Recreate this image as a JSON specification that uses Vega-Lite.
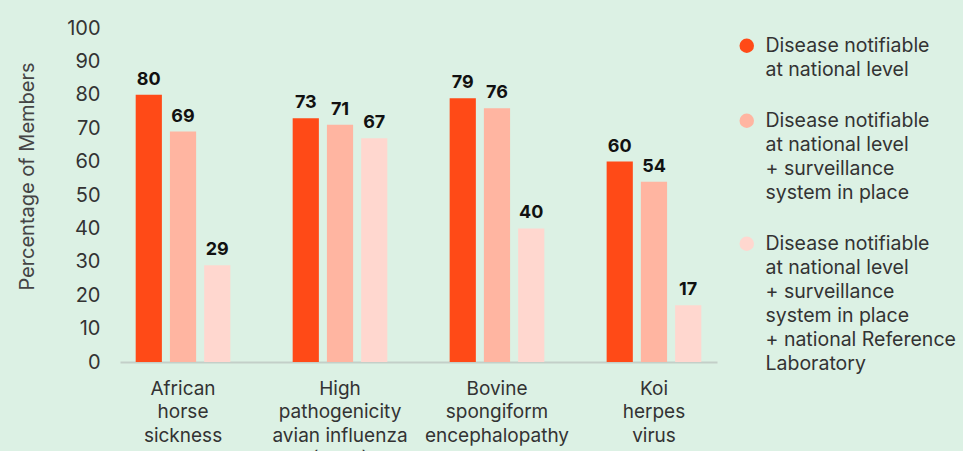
{
  "$schema": "https://vega.github.io/schema/vega-lite/v6.json",
  "width": 597,
  "height": 334,
  "autosize": {"type": "none"},
  "padding": {"left": 120, "top": 28, "right": 246, "bottom": 89},
  "background": "#dcf1e4",
  "config": {
    "view": {"stroke": null},
    "font": "Inter"
  },
  "data": {
    "values": [
      {"disease": "African|horse|sickness", "series": "Disease notifiable|at national level", "value": 80},
      {"disease": "African|horse|sickness", "series": "Disease notifiable|at national level|+ surveillance|system in place", "value": 69},
      {"disease": "African|horse|sickness", "series": "Disease notifiable|at national level|+ surveillance|system in place|+ national Reference|Laboratory", "value": 29},
      {"disease": "High|pathogenicity|avian influenza|(HPAI)", "series": "Disease notifiable|at national level", "value": 73},
      {"disease": "High|pathogenicity|avian influenza|(HPAI)", "series": "Disease notifiable|at national level|+ surveillance|system in place", "value": 71},
      {"disease": "High|pathogenicity|avian influenza|(HPAI)", "series": "Disease notifiable|at national level|+ surveillance|system in place|+ national Reference|Laboratory", "value": 67},
      {"disease": "Bovine|spongiform|encephalopathy", "series": "Disease notifiable|at national level", "value": 79},
      {"disease": "Bovine|spongiform|encephalopathy", "series": "Disease notifiable|at national level|+ surveillance|system in place", "value": 76},
      {"disease": "Bovine|spongiform|encephalopathy", "series": "Disease notifiable|at national level|+ surveillance|system in place|+ national Reference|Laboratory", "value": 40},
      {"disease": "Koi|herpes|virus", "series": "Disease notifiable|at national level", "value": 60},
      {"disease": "Koi|herpes|virus", "series": "Disease notifiable|at national level|+ surveillance|system in place", "value": 54},
      {"disease": "Koi|herpes|virus", "series": "Disease notifiable|at national level|+ surveillance|system in place|+ national Reference|Laboratory", "value": 17}
    ]
  },
  "encoding": {
    "x": {
      "field": "disease",
      "type": "nominal",
      "sort": null,
      "scale": {"paddingInner": 0.397, "paddingOuter": 0.1},
      "axis": {
        "title": null,
        "labelAngle": 0,
        "labelExpr": "split(datum.label, '|')",
        "labelFontSize": 19,
        "labelColor": "#333333",
        "labelLineHeight": 23.5,
        "labelPadding": 17,
        "labelBaseline": "top",
        "ticks": false,
        "domainColor": "#c3cfc8",
        "domainWidth": 2,
        "labelLimit": 300
      }
    },
    "xOffset": {
      "field": "series",
      "type": "nominal",
      "sort": null,
      "scale": {"paddingInner": 0.235}
    },
    "y": {
      "field": "value",
      "type": "quantitative",
      "scale": {"domain": [0, 100]},
      "axis": {
        "title": "Percentage of Members",
        "titleFontSize": 20,
        "titleFontWeight": "normal",
        "titleColor": "#444444",
        "titlePadding": 29,
        "titleY": 148,
        "values": [0, 10, 20, 30, 40, 50, 60, 70, 80, 90, 100],
        "labelFontSize": 20,
        "labelColor": "#333333",
        "labelPadding": 20,
        "ticks": false,
        "domain": false,
        "grid": false
      }
    }
  },
  "layer": [
    {
      "mark": {"type": "bar"},
      "encoding": {
        "color": {
          "field": "series",
          "type": "nominal",
          "sort": null,
          "scale": {"range": ["#ff4a17", "#ffb5a1", "#ffd7cf"]},
          "legend": {
            "title": null,
            "orient": "none",
            "legendX": 617,
            "legendY": 8,
            "symbolType": "circle",
            "symbolSize": 210,
            "labelExpr": "split(datum.label, '|')",
            "labelFontSize": 19.5,
            "labelColor": "#333333",
            "labelLimit": 300,
            "labelOffset": 9,
            "rowPadding": 30,
            "padding": 0,
            "encode": {"labels": {"update": {"lineHeight": {"value": 24}}}}
          }
        }
      }
    },
    {
      "mark": {"type": "text", "dy": -15, "fontSize": 18, "fontWeight": "bold", "color": "#111111"},
      "encoding": {
        "text": {"field": "value", "type": "quantitative"}
      }
    }
  ]
}
